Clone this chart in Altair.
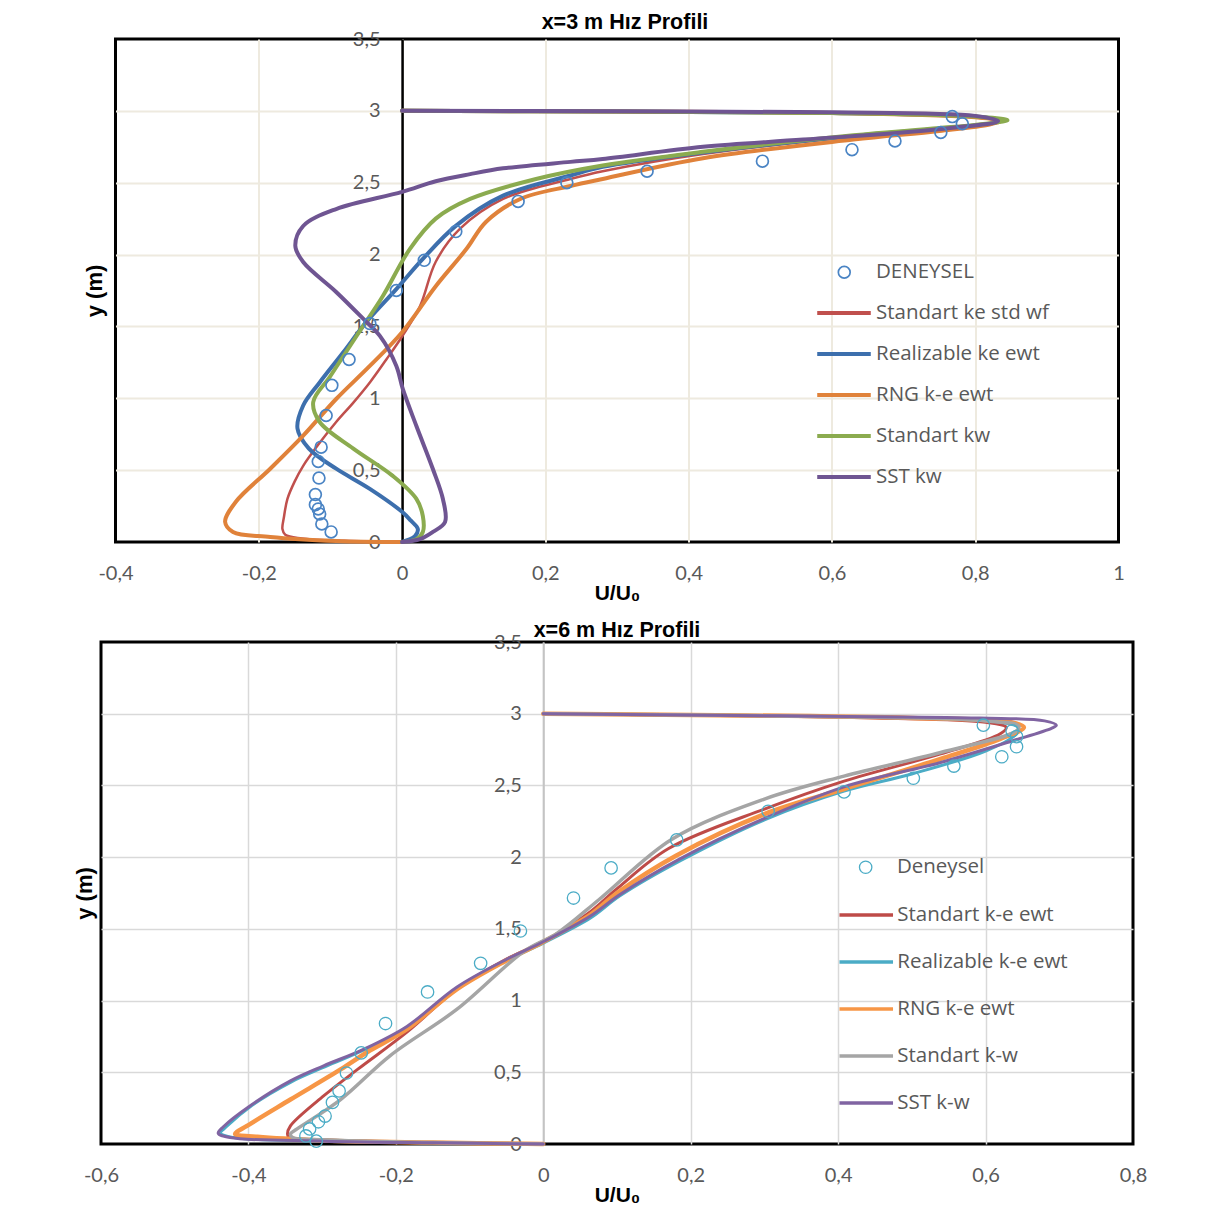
import altair as alt
import pandas as pd

# ---------------- top panel : x=3 m ----------------
top_names = ["Standart ke std wf", "Realizable ke ewt", "RNG k-e ewt", "Standart kw", "SST kw"]
top_colors = ["#C0504D", "#3D6FAD", "#E0823A", "#8BAB4F", "#6F5592"]
top_widths = [2.5, 4, 4, 4, 4]

top_std_u = [0.0, -0.08, -0.14, -0.163, -0.167, -0.165, -0.160, -0.150, -0.138, -0.115, -0.092, -0.068, -0.045, -0.022, 0.0, 0.025, 0.047, 0.081, 0.141, 0.235, 0.28, 0.42, 0.63, 0.75, 0.82, 0.83, 0.80, 0.60, 0.30, 0.0]
top_std_y = [0.0, 0.008, 0.025, 0.05, 0.09, 0.17, 0.30, 0.42, 0.53, 0.69, 0.835, 0.97, 1.11, 1.27, 1.43, 1.64, 1.95, 2.18, 2.387, 2.526, 2.58, 2.70, 2.82, 2.87, 2.91, 2.93, 2.955, 2.985, 2.995, 3.0]

top_rea_u = [0.0, 0.018, 0.022, 0.012, 0.0, -0.045, -0.092, -0.13, -0.146, -0.138, -0.115, -0.082, -0.05, -0.008, 0.029, 0.075, 0.141, 0.235, 0.28, 0.42, 0.63, 0.75, 0.825, 0.835, 0.80, 0.60, 0.30, 0.0]
top_rea_y = [0.0, 0.04, 0.09, 0.15, 0.21, 0.37, 0.51, 0.65, 0.79, 0.95, 1.11, 1.32, 1.53, 1.76, 1.97, 2.20, 2.41, 2.55, 2.61, 2.71, 2.825, 2.875, 2.915, 2.935, 2.96, 2.985, 2.995, 3.0]

top_rng_u = [0.0, -0.092, -0.184, -0.236, -0.247, -0.232, -0.184, -0.138, -0.092, -0.045, 0.0, 0.047, 0.09, 0.117, 0.165, 0.235, 0.28, 0.42, 0.63, 0.75, 0.82, 0.835, 0.80, 0.60, 0.30, 0.0]
top_rng_y = [0.0, 0.007, 0.035, 0.07, 0.14, 0.28, 0.51, 0.74, 0.995, 1.225, 1.46, 1.78, 2.04, 2.227, 2.387, 2.477, 2.526, 2.67, 2.80, 2.86, 2.905, 2.93, 2.955, 2.985, 2.995, 3.0]

top_kw_u = [0.0, 0.02, 0.029, 0.029, 0.02, -0.013, -0.068, -0.115, -0.124, -0.10, -0.064, -0.027, 0.011, 0.047, 0.095, 0.187, 0.28, 0.42, 0.63, 0.75, 0.83, 0.845, 0.80, 0.60, 0.30, 0.0]
top_kw_y = [0.0, 0.02, 0.07, 0.18, 0.30, 0.46, 0.65, 0.835, 0.974, 1.155, 1.43, 1.71, 2.04, 2.25, 2.387, 2.526, 2.62, 2.715, 2.83, 2.88, 2.92, 2.935, 2.96, 2.985, 2.995, 3.0]

top_sst_u = [0.0, 0.025, 0.043, 0.06, 0.057, 0.043, 0.02, 0.001, -0.008, -0.031, -0.054, -0.092, -0.138, -0.149, -0.138, -0.092, 0.0, 0.047, 0.095, 0.141, 0.235, 0.28, 0.42, 0.56, 0.745, 0.832, 0.80, 0.60, 0.30, 0.0]
top_sst_y = [0.0, 0.02, 0.07, 0.139, 0.299, 0.508, 0.807, 1.065, 1.225, 1.434, 1.552, 1.74, 1.948, 2.06, 2.199, 2.317, 2.436, 2.51, 2.56, 2.60, 2.645, 2.665, 2.75, 2.80, 2.87, 2.93, 2.965, 2.99, 2.997, 3.0]

top_exp_u = [0.768, 0.782, 0.752, 0.688, 0.628, 0.503, 0.342, 0.23, 0.162, 0.075, 0.031, -0.008, -0.045, -0.074, -0.098, -0.106, -0.113, -0.117, -0.116, -0.121, -0.121, -0.117, -0.115, -0.112, -0.099]
top_exp_y = [2.96, 2.91, 2.85, 2.79, 2.73, 2.65, 2.58, 2.50, 2.37, 2.16, 1.96, 1.75, 1.52, 1.27, 1.09, 0.88, 0.66, 0.56, 0.445, 0.33, 0.26, 0.23, 0.195, 0.125, 0.07]

# ---------------- bottom panel : x=6 m ----------------
bot_names = ["Standart k-e ewt", "Realizable k-e ewt", "RNG k-e ewt", "Standart k-w", "SST k-w"]
bot_colors = ["#BE4B48", "#4BACC6", "#F79646", "#A5A5A5", "#8064A2"]
bot_widths = [3, 3, 4.5, 3.5, 3]

bot_std_u = [0.0, -0.15, -0.30, -0.345, -0.347, -0.343, -0.298, -0.252, -0.185, -0.117, -0.05, 0.0, 0.064, 0.10, 0.17, 0.30, 0.408, 0.539, 0.62, 0.628, 0.60, 0.45, 0.0]
bot_std_y = [0.0, 0.01, 0.03, 0.045, 0.07, 0.126, 0.335, 0.52, 0.78, 1.08, 1.29, 1.41, 1.62, 1.78, 2.06, 2.335, 2.53, 2.72, 2.86, 2.905, 2.94, 2.97, 3.0]

bot_rea_u = [0.0, -0.15, -0.298, -0.42, -0.438, -0.43, -0.395, -0.343, -0.30, -0.25, -0.185, -0.117, -0.049, 0.0, 0.064, 0.104, 0.186, 0.30, 0.408, 0.50, 0.60, 0.64, 0.645, 0.62, 0.45, 0.0]
bot_rea_y = [0.0, 0.008, 0.02, 0.045, 0.075, 0.12, 0.27, 0.43, 0.53, 0.64, 0.81, 1.085, 1.28, 1.40, 1.575, 1.73, 1.975, 2.26, 2.46, 2.58, 2.74, 2.85, 2.90, 2.94, 2.975, 3.0]

bot_rng_u = [0.0, -0.15, -0.30, -0.388, -0.418, -0.402, -0.343, -0.275, -0.239, -0.185, -0.117, -0.05, 0.0, 0.064, 0.10, 0.18, 0.30, 0.408, 0.539, 0.62, 0.652, 0.636, 0.5, 0.0]
bot_rng_y = [0.0, 0.01, 0.025, 0.05, 0.07, 0.126, 0.31, 0.52, 0.64, 0.80, 1.08, 1.28, 1.41, 1.60, 1.75, 2.01, 2.30, 2.475, 2.685, 2.825, 2.905, 2.94, 2.97, 3.0]

bot_kw_u = [0.0, -0.15, -0.30, -0.34, -0.343, -0.334, -0.275, -0.208, -0.117, -0.027, 0.019, 0.077, 0.175, 0.30, 0.408, 0.539, 0.642, 0.645, 0.60, 0.45, 0.0]
bot_kw_y = [0.0, 0.01, 0.03, 0.045, 0.07, 0.105, 0.31, 0.615, 0.94, 1.34, 1.47, 1.71, 2.127, 2.405, 2.565, 2.73, 2.88, 2.915, 2.95, 2.975, 3.0]

bot_sst_u = [0.0, -0.15, -0.298, -0.425, -0.441, -0.434, -0.398, -0.343, -0.298, -0.244, -0.185, -0.117, -0.049, 0.0, 0.064, 0.104, 0.186, 0.30, 0.408, 0.539, 0.636, 0.69, 0.696, 0.68, 0.593, 0.32, 0.0]
bot_sst_y = [0.0, 0.008, 0.02, 0.045, 0.075, 0.12, 0.265, 0.44, 0.545, 0.66, 0.82, 1.095, 1.29, 1.41, 1.59, 1.74, 1.99, 2.27, 2.49, 2.66, 2.81, 2.90, 2.92, 2.95, 2.97, 2.985, 3.0]

bot_exp_u = [0.597, 0.636, 0.642, 0.642, 0.622, 0.557, 0.502, 0.408, 0.305, 0.181, 0.092, 0.041, -0.031, -0.085, -0.157, -0.214, -0.247, -0.267, -0.277, -0.286, -0.296, -0.305, -0.317, -0.322, -0.308]
bot_exp_y = [2.92, 2.88, 2.84, 2.77, 2.70, 2.635, 2.55, 2.455, 2.32, 2.12, 1.925, 1.715, 1.485, 1.26, 1.06, 0.84, 0.635, 0.495, 0.37, 0.29, 0.195, 0.155, 0.105, 0.056, 0.02]

y_ticks = [0, 0.5, 1, 1.5, 2, 2.5, 3, 3.5]
y_grid = [0.5, 1, 1.5, 2, 2.5, 3]
top_x_ticks = [-0.4, -0.2, 0, 0.2, 0.4, 0.6, 0.8, 1.0]
top_x_grid = [-0.2, 0, 0.2, 0.4, 0.6, 0.8]
bot_x_ticks = [-0.6, -0.4, -0.2, 0, 0.2, 0.4, 0.6, 0.8]
bot_x_grid = [-0.4, -0.2, 0, 0.2, 0.4, 0.6]

LBL = "replace(replace(format(datum.value, '~g'), '.', ','), '\u2212', '-')"
TICK_FONT = "Lato"
LEG_FONT = "Open Sans"
TITLE_FONT = "Liberation Sans"
GREY_TXT = "#595959"


def panel(names, colors, widths, us, ys, eu, ey, exp_name, exp_color, exp_size, exp_sw,
          xdom, xticks, xgrid, width, height, title, title_dx, title_dy, grid_color, grid_width,
          zero_color, zero_width, ytitle_pad, pt_leg, ln_leg):
    xscale = alt.Scale(domain=xdom, nice=False, zero=False)
    yscale = alt.Scale(domain=[0, 3.5], nice=False, zero=False)
    # labelled x axis + y title/grid (lines layer)
    xaxis_a = alt.Axis(orient="bottom", values=xticks, labelExpr=LBL, title="U/U\u2080", grid=False,
                       domain=False, ticks=False,
                       labelFont=TICK_FONT, labelFontSize=20, labelColor=GREY_TXT,
                       labelPadding=21, labelFlush=False, labelOverlap=False, labelBound=False,
                       titleFont=TITLE_FONT, titleFontSize=21, titleFontWeight="bold",
                       titleColor="black", titlePadding=-1)
    yaxis_a = alt.Axis(orient="left", values=y_grid, labels=False, ticks=False, domain=False,
                       grid=True, gridColor=grid_color, gridWidth=grid_width,
                       title="y (m)", titleFont=TITLE_FONT, titleFontSize=22,
                       titleFontWeight="bold", titleColor="black", titlePadding=ytitle_pad)
    # x grid + y labels at x=0 (points layer)
    xaxis_b = alt.Axis(orient="bottom", values=xgrid, labels=False, ticks=False, domain=False,
                       grid=True, gridColor=grid_color, gridWidth=grid_width, title="")
    zero_off = -(0 - xdom[0]) / (xdom[1] - xdom[0]) * width
    yaxis_b = alt.Axis(orient="left", offset=zero_off, values=y_ticks, labelExpr=LBL,
                       ticks=False, domain=True, domainColor=zero_color, domainWidth=zero_width,
                       grid=False, title="", labelPadding=22, labelFont=TICK_FONT,
                       labelFontSize=20, labelColor=GREY_TXT, labelFlush=False,
                       labelOverlap=False, labelBound=False)

    line_layers = []
    for n, w, uu, yy in zip(names, widths, us, ys):
        df = pd.DataFrame({"series": [n] * len(uu), "u": uu, "y": yy, "idx": list(range(len(uu)))})
        line_layers.append(
            alt.Chart(df).mark_line(
                interpolate="catmull-rom", strokeCap="round", strokeJoin="round", strokeWidth=w
            ).encode(
                x=alt.X("u:Q", scale=xscale, axis=xaxis_a),
                y=alt.Y("y:Q", scale=yscale, axis=yaxis_a),
                order=alt.Order("idx:Q"),
                color=alt.Color("series:N", scale=alt.Scale(domain=names, range=colors), legend=ln_leg),
            )
        )
    lines = alt.layer(*line_layers)

    pts_df = pd.DataFrame({"u": eu, "y": ey, "kind": [exp_name] * len(eu)})
    pts = alt.Chart(pts_df).mark_point(
        filled=False, size=exp_size, strokeWidth=exp_sw, opacity=1
    ).encode(
        x=alt.X("u:Q", scale=xscale, axis=xaxis_b),
        y=alt.Y("y:Q", scale=yscale, axis=yaxis_b),
        color=alt.Color("kind:N", scale=alt.Scale(domain=[exp_name], range=[exp_color]), legend=pt_leg),
    )
    return alt.layer(lines, pts).resolve_scale(color="independent").resolve_axis(
        x="independent", y="independent"
    ).properties(
        width=width, height=height,
        title=alt.Title(title, font=TITLE_FONT, fontSize=21.5, fontWeight="bold", color="black",
                        anchor="middle", frame="group", offset=2, dx=title_dx, dy=title_dy),
    )


def line_legend(x, y, rowpad, loff, sw):
    return alt.Legend(title=None, orient="none", legendX=x, legendY=y, padding=0,
                      symbolType="M-2.55,0H2.55", symbolSize=441, symbolStrokeWidth=sw,
                      labelFont=LEG_FONT, labelFontSize=20.5, labelColor=GREY_TXT,
                      labelOffset=loff, rowPadding=rowpad, labelLimit=400)


def point_legend(x, y, size, sw, loff):
    return alt.Legend(title=None, orient="none", legendX=x, legendY=y, padding=0,
                      symbolType="circle", symbolSize=size, symbolStrokeWidth=sw,
                      labelFont=LEG_FONT, labelFontSize=20.5, labelColor=GREY_TXT,
                      labelOffset=loff, labelLimit=400)


top = panel(top_names, top_colors, top_widths,
            [top_std_u, top_rea_u, top_rng_u, top_kw_u, top_sst_u],
            [top_std_y, top_rea_y, top_rng_y, top_kw_y, top_sst_y],
            top_exp_u, top_exp_y, "DENEYSEL", "#4A84C4", 140, 1.7,
            [-0.4, 1.0], top_x_ticks, top_x_grid, 1003, 503, "x=3 m H\u0131z Profili", 8, 6,
            "#EEEADF", 2, "black", 2.5, 9,
            point_legend(718.5, 223, 140, 1.7, 21.5),
            line_legend(716, 261.5, 18, 19.5, 4))

bottom = panel(bot_names, bot_colors, bot_widths,
               [bot_std_u, bot_rea_u, bot_rng_u, bot_kw_u, bot_sst_u],
               [bot_std_y, bot_rea_y, bot_rng_y, bot_kw_y, bot_sst_y],
               bot_exp_u, bot_exp_y, "Deneysel", "#4BACC6", 154, 1.3,
               [-0.6, 0.8], bot_x_ticks, bot_x_grid, 1032, 502, "x=6 m H\u0131z Profili", 0, 11,
               "#D9D9D9", 1.5, "#C4C4C4", 2, 5,
               point_legend(754.4, 215, 154, 1.3, 21),
               line_legend(752.75, 260.5, 24, 18.5, 3.5))

chart = alt.vconcat(top, bottom, spacing=100, center=True, bounds="flush").resolve_scale(
    color="independent"
).properties(
    padding={"left": 63, "top": 2, "right": 5, "bottom": 5},
    background="white",
).configure_view(stroke="black", strokeWidth=3)

chart.save("out.html", embed_options={"renderer": "svg", "actions": False})
